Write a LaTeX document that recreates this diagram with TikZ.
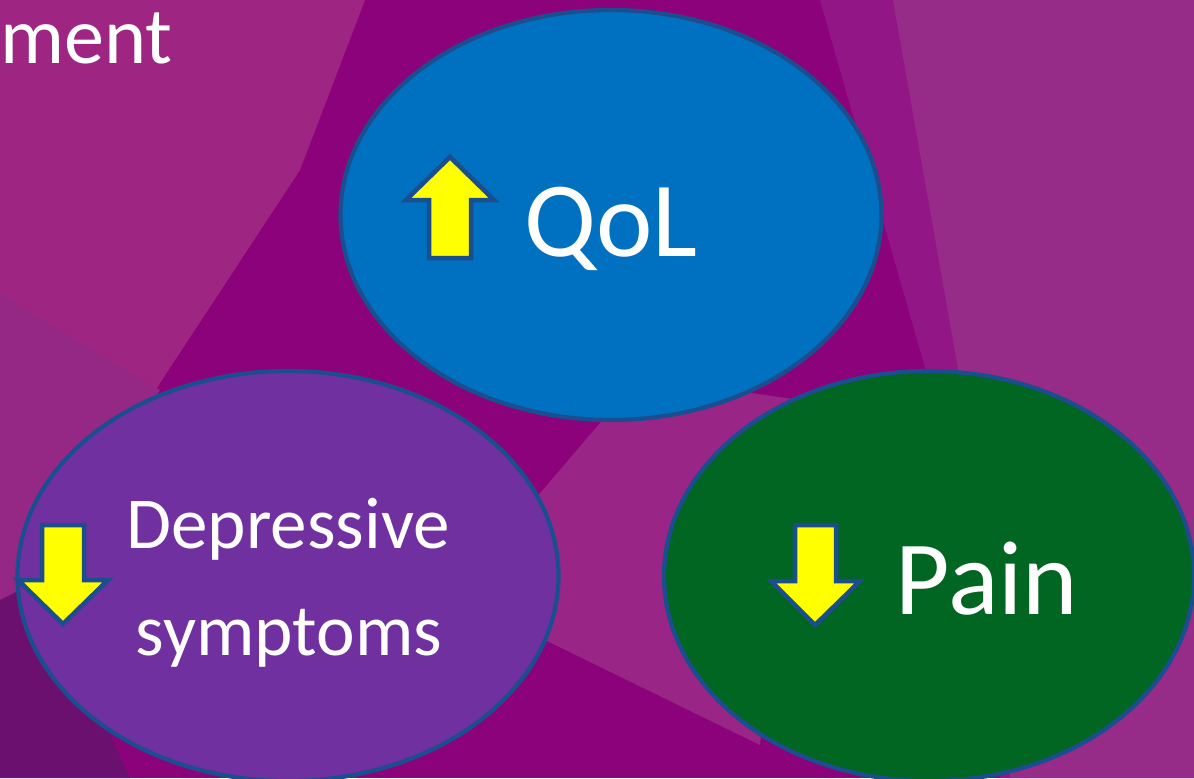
\documentclass[tikz,border=0pt]{standalone}
\usepackage{fontspec}
\setmainfont{Carlito}
\usetikzlibrary{shapes.geometric}

\definecolor{bgmag}{RGB}{140,2,122}
\definecolor{bgleft}{RGB}{158,38,130}
\definecolor{bgleftlow}{RGB}{150,40,133}
\definecolor{bgstripe}{RGB}{146,22,134}
\definecolor{bgright}{RGB}{150,44,136}
\definecolor{bgmid}{RGB}{153,38,134}
\definecolor{bgdark}{RGB}{108,16,112}
\definecolor{qolblue}{RGB}{0,112,192}
\definecolor{deppurple}{RGB}{112,48,160}
\definecolor{paingreen}{RGB}{0,102,34}
\definecolor{rimblue}{RGB}{26,78,142}
\definecolor{arrowyellow}{RGB}{255,255,0}

\begin{document}
\begin{tikzpicture}[x=0.025cm, y=-0.025cm,
        blob/.style={ellipse, draw=rimblue, line width=3pt, inner sep=0pt},
        yarrow/.style={fill=arrowyellow, draw=rimblue, line width=3.2pt, line join=miter},
        every node/.style={text=white}]
    \useasboundingbox (0,0) rectangle (1194,778);
    \clip (0,0) rectangle (1194,778);
    % backdrop
    \fill[bgmag] (0,0) rectangle (1194,778);
    \fill[bgleft] (0,0) -- (365,0) -- (300,170) -- (160,383) -- (20,610) -- (0,610) -- cycle;
    \fill[bgleftlow] (0,293) -- (160,390) -- (20,610) -- (0,610) -- cycle;
    \fill[bgdark] (0,600) -- (40,580) -- (130,778) -- (0,778) -- cycle;
    \fill[bgstripe] (820,0) -- (1194,0) -- (1194,778) -- (1000,778) -- (940,420) -- cycle;
    \fill[bgright] (893,0) -- (1194,0) -- (1194,778) -- (1010,778) -- (960,380) -- cycle;
    \fill[bgmid] (660,380) -- (600,423) -- (530,505) -- (545,640) -- (760,745) -- (800,400) -- cycle;
    \node[font=\fontsize{57}{66}\selectfont, anchor=base west, inner sep=0pt] (title) at (0,63) {ment};

    \node[blob, fill=qolblue, minimum width={541*0.025cm}, minimum height={410*0.025cm}] (qol) at (611,215) {};
    \node[blob, fill=deppurple, minimum width={541*0.025cm}, minimum height={410*0.025cm}] (depr) at (288,576) {};
    \node[blob, fill=paingreen, minimum width={530*0.025cm}, minimum height={410*0.025cm}] (pain) at (929,576) {};

    \node[font=\fontsize{76}{90}\selectfont, anchor=base] (qoltext) at (611,256) {QoL};
    \node[font=\fontsize{52}{60}\selectfont, anchor=base] (deprtop) at (288,548) {Depressive};
    \node[font=\fontsize{52}{60}\selectfont, anchor=base] (deprbot) at (289,655) {symptoms};
    \node[font=\fontsize{75}{90}\selectfont, anchor=base] (paintext) at (987,614) {Pain};

    % up / down arrows
    \draw[yarrow] (429,258) -- (429,200) -- (406,200) -- (450,157) -- (494,200) -- (471,200) -- (471,258) -- cycle;
    \draw[yarrow] (42,525) -- (84,525) -- (84,580) -- (108,580) -- (63,624) -- (18,580) -- (42,580) -- cycle;
    \draw[yarrow] (795,525) -- (836,525) -- (836,581) -- (860,581) -- (815,625) -- (771,581) -- (795,581) -- cycle;
\end{tikzpicture}
\end{document}
